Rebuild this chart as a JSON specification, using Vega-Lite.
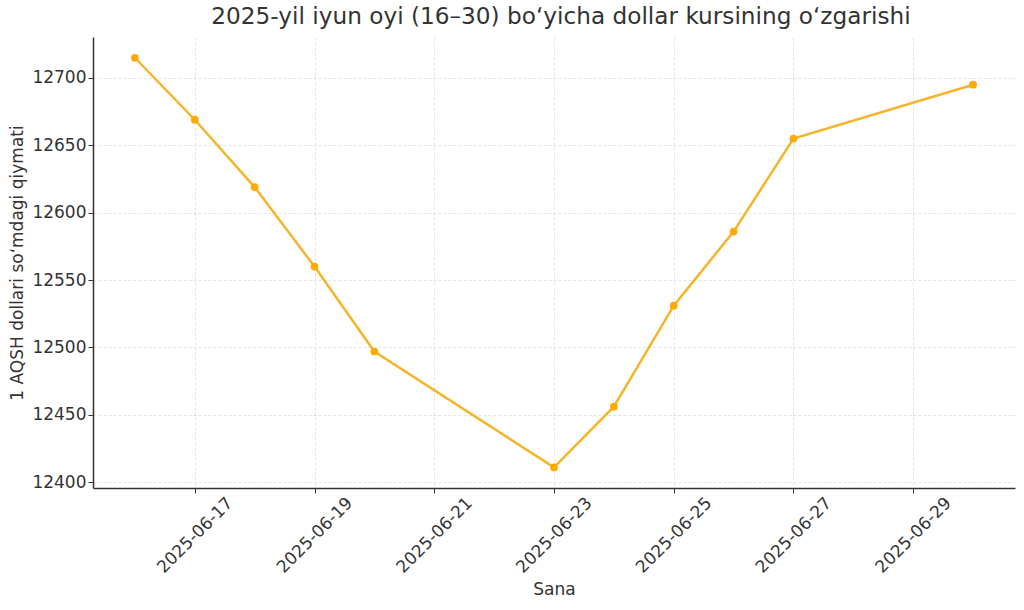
{
  "$schema": "https://vega.github.io/schema/vega-lite/v6.json",
  "width": 922,
  "height": 451,
  "autosize": {"type": "none"},
  "padding": {"left": 93, "top": 37, "right": 9, "bottom": 122},
  "background": "white",
  "title": {
    "text": "2025-yil iyun oyi (16–30) bo‘yicha dollar kursining o‘zgarishi",
    "font": "DejaVu Sans",
    "fontSize": 23.2,
    "fontWeight": "normal",
    "color": "#333333",
    "anchor": "middle",
    "dx": 7,
    "offset": 8
  },
  "config": {
    "view": {"stroke": null},
    "axis": {
      "labelFont": "DejaVu Sans",
      "titleFont": "DejaVu Sans",
      "labelFontSize": 17,
      "titleFontSize": 17,
      "titleFontWeight": "normal",
      "labelColor": "#333333",
      "titleColor": "#333333",
      "domainColor": "#333333",
      "domainWidth": 1.5,
      "tickColor": "#333333",
      "tickSize": 5,
      "gridColor": "#dddddd",
      "gridDash": [3, 2],
      "gridWidth": 0.8
    }
  },
  "data": {
    "values": [
      {"date": "2025-06-16", "rate": 12715},
      {"date": "2025-06-17", "rate": 12669},
      {"date": "2025-06-18", "rate": 12619},
      {"date": "2025-06-19", "rate": 12560},
      {"date": "2025-06-20", "rate": 12497},
      {"date": "2025-06-23", "rate": 12411},
      {"date": "2025-06-24", "rate": 12456},
      {"date": "2025-06-25", "rate": 12531},
      {"date": "2025-06-26", "rate": 12586},
      {"date": "2025-06-27", "rate": 12655},
      {"date": "2025-06-30", "rate": 12695}
    ]
  },
  "encoding": {
    "x": {
      "field": "date",
      "type": "temporal",
      "scale": {
        "type": "utc",
        "domain": [
          {"year": 2025, "month": 6, "date": 15, "hours": 7, "minutes": 12, "utc": true},
          {"year": 2025, "month": 6, "date": 30, "hours": 16, "minutes": 48, "utc": true}
        ]
      },
      "axis": {
        "title": "Sana",
        "format": "%Y-%m-%d",
        "labelAngle": -45,
        "labelAlign": "center",
        "labelBaseline": "middle",
        "labelPadding": 42,
        "titlePadding": 6,
        "values": [
          {"year": 2025, "month": 6, "date": 17, "utc": true},
          {"year": 2025, "month": 6, "date": 19, "utc": true},
          {"year": 2025, "month": 6, "date": 21, "utc": true},
          {"year": 2025, "month": 6, "date": 23, "utc": true},
          {"year": 2025, "month": 6, "date": 25, "utc": true},
          {"year": 2025, "month": 6, "date": 27, "utc": true},
          {"year": 2025, "month": 6, "date": 29, "utc": true}
        ]
      }
    },
    "y": {
      "field": "rate",
      "type": "quantitative",
      "scale": {"domain": [12395.7, 12730.4], "nice": false, "zero": false},
      "axis": {
        "title": "1 AQSH dollari so‘mdagi qiymati",
        "values": [12400, 12450, 12500, 12550, 12600, 12650, 12700],
        "format": "d",
        "titlePadding": 5
      }
    }
  },
  "layer": [
    {"mark": {"type": "line", "color": "#f6b42a", "strokeWidth": 2.5}},
    {"mark": {"type": "point", "filled": true, "color": "#ffaa00", "opacity": 1, "size": 60}}
  ]
}
